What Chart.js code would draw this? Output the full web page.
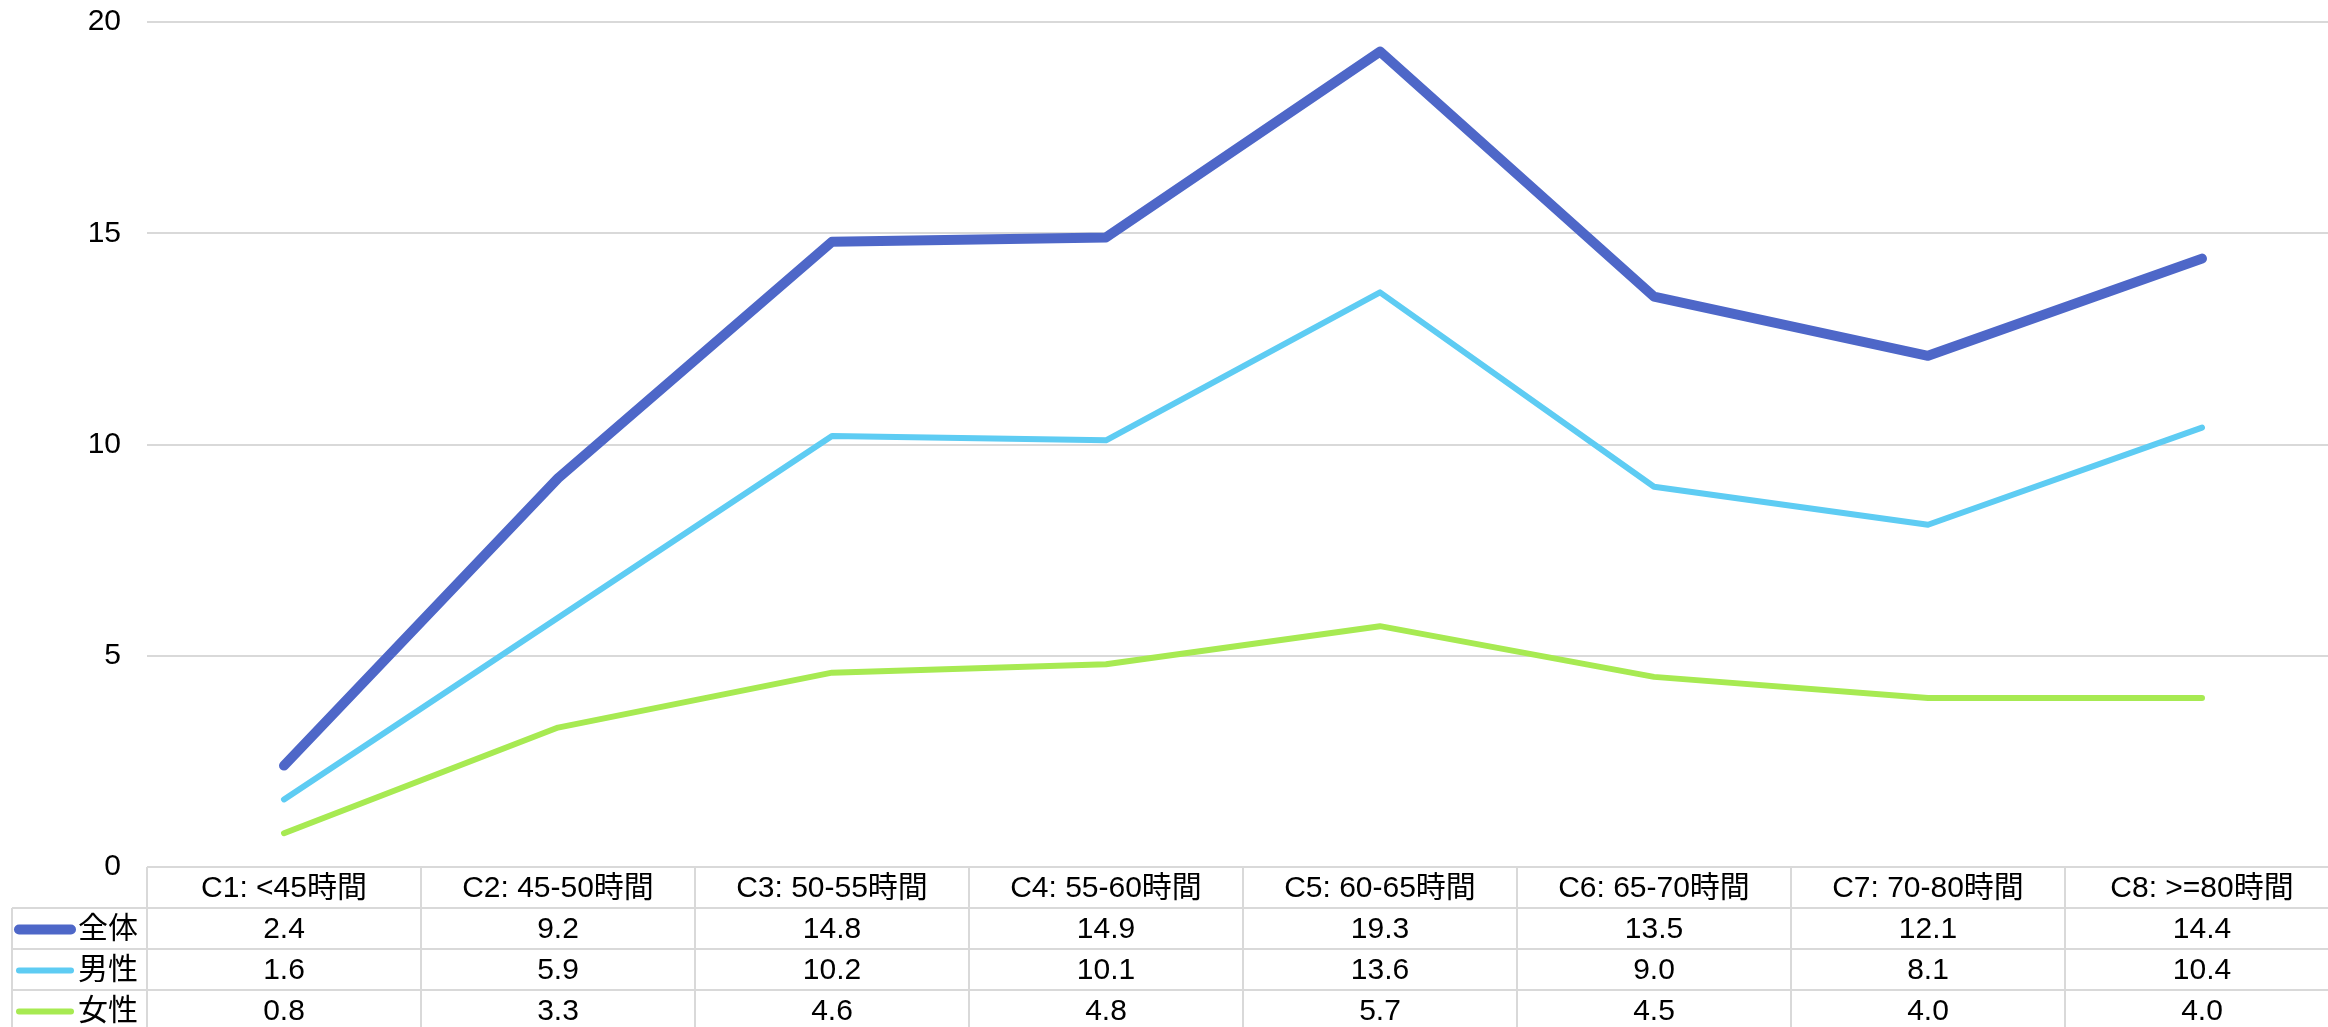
<!DOCTYPE html>
<html lang="ja">
<head>
<meta charset="utf-8">
<title>労働時間別</title>
<script src="https://cdn.jsdelivr.net/npm/chart.js@4.4.1/dist/chart.umd.min.js"></script>
<style>
  html, body { margin: 0; padding: 0; background: #fff; overflow: hidden; }
  #grafico { display: block; }
</style>
</head>
<body>
<canvas id="grafico" width="2339" height="1027"></canvas>
<script>
// categorias (horas de trabalho)
const categorias = ['C1: <45時間', 'C2: 45-50時間', 'C3: 50-55時間', 'C4: 55-60時間',
                    'C5: 60-65時間', 'C6: 65-70時間', 'C7: 70-80時間', 'C8: >=80時間']

const nomesSeries = ['全体', '男性', '女性']
const valoresTotal = [2.4, 9.2, 14.8, 14.9, 19.3, 13.5, 12.1, 14.4]
const valoresHomens = [1.6, 5.9, 10.2, 10.1, 13.6, 9.0, 8.1, 10.4]
const valoresMulheres = [0.8, 3.3, 4.6, 4.8, 5.7, 4.5, 4.0, 4.0]

const coresSeries = ['#4E67C8', '#5ECCF3', '#A7EA52']
const espessuras = [10, 6, 6]

const familia = '"Liberation Sans", "Noto Sans CJK JP", sans-serif'
const fonteTexto = '30px ' + familia
const corGrade = '#D9D9D9'


// tabela de dados embaixo do grafico, alinhada com as categorias do eixo x
const tabelaDados = {
  id: 'tabelaDados',
  afterDraw(chart) {
    const ctx = chart.ctx
    const eixoX = chart.scales.x
    const area = chart.chartArea
    const passo = eixoX.getPixelForValue(1) - eixoX.getPixelForValue(0)
    const altura = 41
    const topo = area.bottom
    const inicioRotulo = 12
    const direita = area.right
    const linhas = chart.data.datasets

    ctx.save()
    ctx.strokeStyle = corGrade
    ctx.lineWidth = 2

    // linhas horizontais
    ctx.beginPath()
    ctx.moveTo(area.left, topo)
    ctx.lineTo(direita, topo)
    for (let i = 1; i <= linhas.length + 1; i++) {
      ctx.moveTo(inicioRotulo, topo + altura * i)
      ctx.lineTo(direita, topo + altura * i)
    }

    // linhas verticais
    ctx.moveTo(inicioRotulo, topo + altura)
    ctx.lineTo(inicioRotulo, topo + altura * (linhas.length + 1))
    for (let i = 0; i <= categorias.length; i++) {
      const x = eixoX.getPixelForValue(i) - passo / 2
      ctx.moveTo(x, topo)
      ctx.lineTo(x, topo + altura * (linhas.length + 1))
    }
    ctx.stroke()

    ctx.font = fonteTexto
    ctx.fillStyle = '#000'
    ctx.textAlign = 'center'
    ctx.textBaseline = 'middle'

    // cabecalho
    categorias.forEach(function (cat, i) {
      ctx.fillText(cat, eixoX.getPixelForValue(i), topo + altura / 2 + 1)
    })

    // uma linha por serie
    linhas.forEach(function (ds, j) {
      const y = topo + altura * (j + 1) + altura / 2 + 1

      ctx.strokeStyle = ds.borderColor
      ctx.lineWidth = j === 0 ? 10 : 6
      ctx.lineCap = 'round'
      ctx.beginPath()
      ctx.moveTo(19, y)
      ctx.lineTo(71, y)
      ctx.stroke()

      ctx.textAlign = 'right'
      ctx.fillText(ds.label, area.left - 9, y)

      ctx.textAlign = 'center'
      ds.data.forEach(function (v, i) {
        ctx.fillText(v.toFixed(1), eixoX.getPixelForValue(i), y)
      })
    })

    ctx.restore()
  }
}


const valores = [valoresTotal, valoresHomens, valoresMulheres]

const ctx = document.getElementById('grafico')

new Chart(ctx, {
  type: 'line',
  data: {
    labels: categorias,
    datasets: nomesSeries.map(function (nome, i) {
      return {
        label: nome,
        data: valores[i],
        borderColor: coresSeries[i],
        backgroundColor: coresSeries[i],
        borderWidth: espessuras[i],
        borderCapStyle: 'round',
        borderJoinStyle: 'round',
        pointRadius: 0,
        tension: 0
      }
    })
  },
  options: {
    responsive: false,
    animation: false,
    layout: {
      padding: { top: 22, bottom: 160, left: 0, right: 0 }
    },
    plugins: {
      legend: { display: false },
      tooltip: { enabled: false }
    },
    scales: {
      x: {
        display: false,
        offset: true
      },
      y: {
        min: 0,
        max: 20,
        // largura fixa do eixo, sem o espaco extra em cima e embaixo
        afterFit: function (escala) {
          escala.width = 147
          escala.paddingTop = 0
          escala.paddingBottom = 0
        },
        border: { display: false },
        grid: {
          color: corGrade,
          lineWidth: 2,
          drawTicks: false
        },
        ticks: {
          stepSize: 5,
          padding: 26,
          color: '#000',
          font: { family: familia, size: 30 }
        }
      }
    }
  },
  plugins: [tabelaDados]
})
</script>
</body>
</html>
